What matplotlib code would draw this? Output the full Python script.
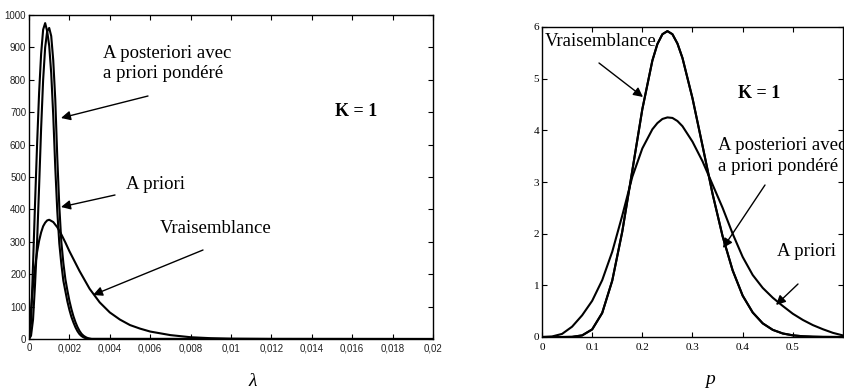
import matplotlib
matplotlib.use("Agg")
import matplotlib.pyplot as plt
from matplotlib.ticker import FuncFormatter

# ---------------- data : left panel (lambda) ----------------
lam_narrow = [0, 0.0001, 0.0002, 0.0003, 0.0004, 0.0005, 0.0006, 0.0007, 0.0008,
              0.0009, 0.0010, 0.0011, 0.0012, 0.0013, 0.0014, 0.0015, 0.0016,
              0.0017, 0.0018, 0.0019, 0.0020, 0.0021, 0.0022, 0.0023, 0.0024,
              0.0025, 0.0026, 0.0027, 0.0028, 0.0029, 0.0030, 0.0031, 0.02]
lam_posteriori = [0, 50, 230, 420, 600, 760, 880, 955, 975,
                  950, 905, 820, 690, 530, 395, 295, 232,
                  180, 148, 116, 90, 68, 51, 36, 24,
                  15, 9, 5, 2.5, 1, 0.4, 0, 0]
lam_priori = [0, 10, 60, 170, 300, 470, 650, 800, 900,
              950, 960, 935, 860, 740, 560, 410, 300,
              235, 185, 150, 118, 92, 70, 52, 37,
              25, 16, 10, 6, 3, 1.5, 0.5, 0]
lam_vrais_x = [0, 0.0001, 0.0002, 0.0003, 0.0004, 0.0005, 0.0006, 0.0007, 0.0008,
               0.0009, 0.0010, 0.0012, 0.0014, 0.0016, 0.0018, 0.0020, 0.0025,
               0.0030, 0.0035, 0.0040, 0.0045, 0.0050, 0.0055, 0.0060, 0.0070,
               0.0080, 0.0090, 0.0100, 0.0120, 0.0200]
lam_vrais = [0, 90, 164, 222, 268, 303, 329, 348, 359,
             366, 368, 361, 345, 323, 298, 271, 210,
             155, 113, 82, 60, 43, 32, 23, 12,
             5.5, 2.5, 1, 0.2, 0]

# ---------------- data : right panel (p) ----------------
p_x = [0, 0.02, 0.04, 0.06, 0.08, 0.10, 0.12, 0.14, 0.16, 0.18, 0.20, 0.22,
       0.23, 0.24, 0.25, 0.26, 0.27, 0.28, 0.30, 0.32, 0.34, 0.36, 0.38, 0.40,
       0.42, 0.44, 0.46, 0.48, 0.50, 0.52, 0.54, 0.56, 0.58, 0.60]
p_vrais = [0, 0, 0.0001, 0.003, 0.031, 0.147, 0.465, 1.09, 2.04, 3.22, 4.41, 5.35,
           5.67, 5.86, 5.92, 5.86, 5.68, 5.40, 4.62, 3.70, 2.77, 1.95, 1.29, 0.80,
           0.475, 0.264, 0.138, 0.068, 0.032, 0.014, 0.006, 0.002, 0.001, 0]
p_posteriori = list(p_vrais)  # coincides with the likelihood curve
p_priori = [0, 0.01, 0.06, 0.2, 0.42, 0.7, 1.1, 1.65, 2.35, 3.1, 3.65, 4.02,
            4.14, 4.22, 4.25, 4.24, 4.18, 4.08, 3.78, 3.40, 2.95, 2.5, 2.0, 1.55,
            1.2, 0.95, 0.76, 0.6, 0.45, 0.33, 0.23, 0.15, 0.08, 0.03]

left_xticks = [0, 0.002, 0.004, 0.006, 0.008, 0.01, 0.012, 0.014, 0.016, 0.018, 0.02]
left_yticks = [0, 100, 200, 300, 400, 500, 600, 700, 800, 900, 1000]
right_xticks = [0, 0.1, 0.2, 0.3, 0.4, 0.5]
right_yticks = [0, 1, 2, 3, 4, 5, 6]

# ---------------- figure ----------------
W, H = 845, 392
fig = plt.figure(figsize=(W / 100, H / 100), dpi=100)
fig.patch.set_facecolor("white")


def px_axes(x0, y0, x1, y1):
    return fig.add_axes([x0 / W, 1 - y1 / H, (x1 - x0) / W, (y1 - y0) / H])


SERIF = ["Liberation Serif", "DejaVu Serif"]
SANS = ["Liberation Sans", "DejaVu Sans"]
LW = 1.5

axL = px_axes(29, 15, 433, 339)
axR = px_axes(542, 27, 843, 337)

for ax in (axL, axR):
    ax.tick_params(direction="in", top=True, right=True, length=3.5, width=0.8,
                   pad=2)
    for s in ax.spines.values():
        s.set_linewidth(1.0)

# left panel
axL.plot(lam_narrow, lam_posteriori, color="black", lw=LW)
axL.plot(lam_narrow, lam_priori, color="black", lw=LW)
axL.plot(lam_vrais_x, lam_vrais, color="black", lw=LW)
axL.set_xlim(0, 0.02)
axL.set_ylim(0, 1000)
axL.set_xticks(left_xticks)
axL.set_yticks(left_yticks)
axL.xaxis.set_major_formatter(FuncFormatter(lambda v, pos: f"{v:g}".replace(".", ",")))
axL.yaxis.set_major_formatter(FuncFormatter(lambda v, pos: f"{v:g}"))
for lab in axL.get_xticklabels() + axL.get_yticklabels():
    lab.set_fontfamily(SANS)
    lab.set_fontsize(7)
    lab.set_color("#222222")
axL.tick_params(axis="x", pad=3)

# right panel
axR.plot(p_x, p_priori, color="black", lw=LW)
axR.plot(p_x, p_vrais, color="black", lw=LW)
axR.plot(p_x, p_posteriori, color="black", lw=LW)
axR.set_xlim(0, 0.6)
axR.set_ylim(0, 6)
axR.set_xticks(right_xticks)
axR.set_yticks(right_yticks)
axR.xaxis.set_major_formatter(FuncFormatter(lambda v, pos: f"{v:g}"))
axR.yaxis.set_major_formatter(FuncFormatter(lambda v, pos: f"{v:g}"))
for lab in axR.get_xticklabels() + axR.get_yticklabels():
    lab.set_fontfamily(SERIF)
    lab.set_fontsize(8)
axR.tick_params(axis="x", pad=4)

# ---------------- annotations (figure pixel coordinates, y from top) ----------------
TXT = dict(family=SERIF, fontsize=13.5, color="black")


def text(x, y, s, **kw):
    d = dict(TXT)
    d.update(kw)
    fig.text(x / W, 1 - y / H, s, va="center", **d)


def arrow(x0, y0, x1, y1):
    fig.add_artist(matplotlib.patches.FancyArrowPatch(
        (x0 / W, 1 - y0 / H), (x1 / W, 1 - y1 / H), transform=fig.transFigure,
        arrowstyle="-|>", mutation_scale=14, lw=1.0, color="black",
        shrinkA=0, shrinkB=0))


# left
text(103, 53, "A posteriori avec", ha="left")
text(103, 74, "a priori pondéré", ha="left")
arrow(148, 96, 61, 118)
text(126, 185, "A priori", ha="left")
arrow(115, 195, 61, 207)
text(160, 229, "Vraisemblance", ha="left")
arrow(203, 250, 93, 295)
text(356, 112, "K = 1", ha="center", weight="bold", fontsize=13)

# right
text(545, 42, "Vraisemblance", ha="left")
arrow(599, 63, 643, 97)
text(759, 94, "K = 1", ha="center", weight="bold", fontsize=13)
text(718, 145, "A posteriori avec", ha="left")
text(718, 166, "a priori pondéré", ha="left")
arrow(765, 185, 723, 248)
text(777, 252, "A priori", ha="left")
arrow(798, 284, 776, 305)

# axis symbols
text(253, 382, "λ", ha="center", style="italic", fontsize=14)
text(710, 380, "p", ha="center", style="italic", fontsize=14)

fig.savefig("out.png", dpi=100, facecolor="white")
